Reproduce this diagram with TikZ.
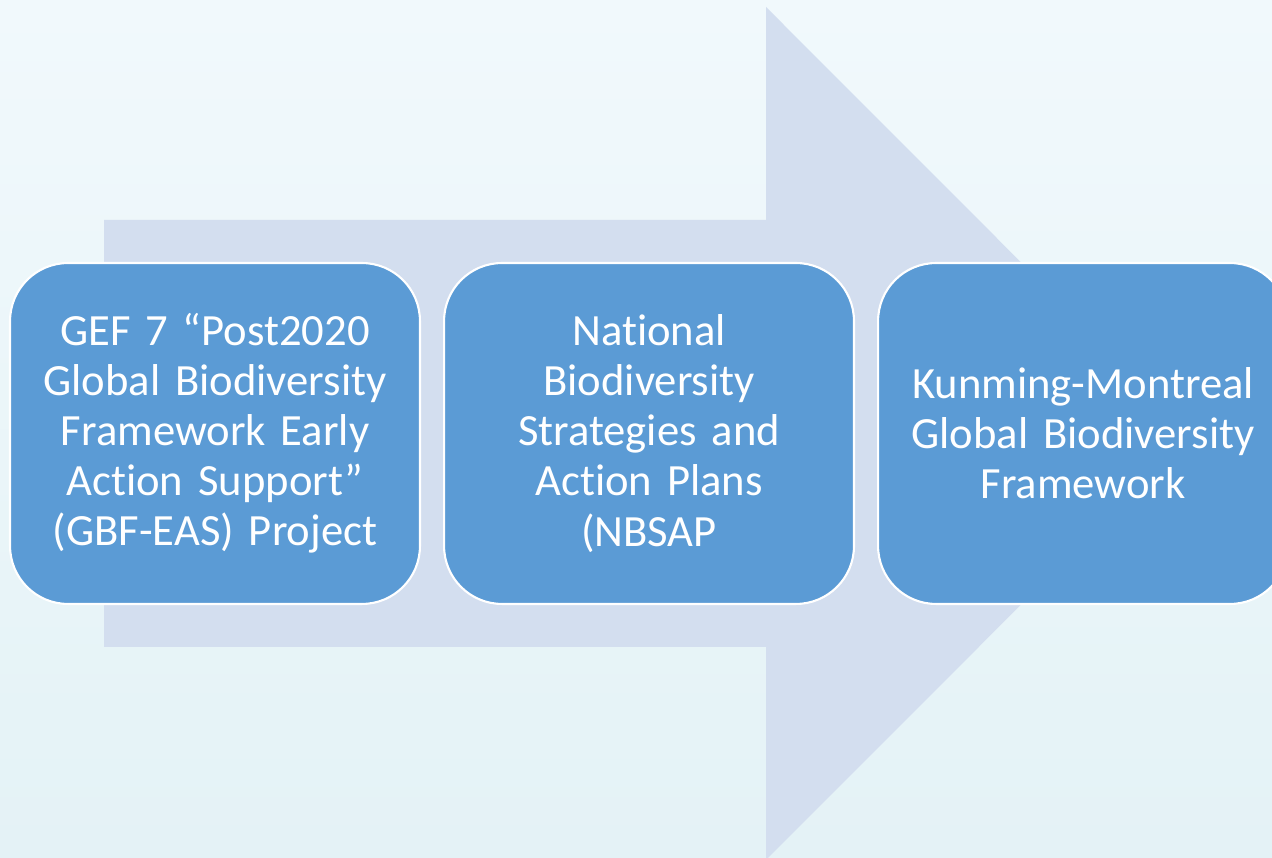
\documentclass[tikz,border=0pt]{standalone}
\usepackage{fontspec}
\setmainfont{Carlito}[Ligatures=NoCommon]
\usepackage{tikz}
\usetikzlibrary{positioning}
\usepackage{xcolor}

\definecolor{paperTop}{RGB}{241,249,252}
\definecolor{paperBottom}{RGB}{228,242,246}
\definecolor{arrowBlue}{RGB}{211,222,239}
\definecolor{stageBlue}{RGB}{91,155,213}

\begin{document}
\begin{tikzpicture}[x=0.02cm, y=0.02cm,
    stagebox/.style={draw=white, line width=1.2pt, fill=stageBlue, rounded corners=33pt,
      minimum width=8.2cm, minimum height=6.82cm, text width=7.6cm, align=center,
      text=white, font=\fontsize{25.4}{28.5}\selectfont, inner sep=0pt}]
  \useasboundingbox (0,0) rectangle (1272,858);
  \clip (0,0) rectangle (1272,858);
  % paper background
  \shade[top color=paperTop, bottom color=paperBottom] (0,0) rectangle (1272,858);
  % big process arrow behind the stages
  \fill[arrowBlue] (104,211) -- (104,638) -- (766,638) -- (766,851)
    -- (1192,424.5) -- (766,-2) -- (766,211) -- cycle;
  % the three stages
  \node[stagebox] (gef) at (215,424.5)
    {GEF 7 “Post2020\\ Global Biodiversity\\ Framework Early\\ Action Support”\\ (GBF-EAS) Project};
  \node[stagebox, right=0.44cm of gef] (nbsap)
    {National\\ Biodiversity\\ Strategies and\\ Action Plans\\ (NBSAP};
  \node[stagebox, right=0.44cm of nbsap] (kmgbf)
    {Kunming-Montreal\\ Global Biodiversity\\ Framework};
\end{tikzpicture}
\end{document}
